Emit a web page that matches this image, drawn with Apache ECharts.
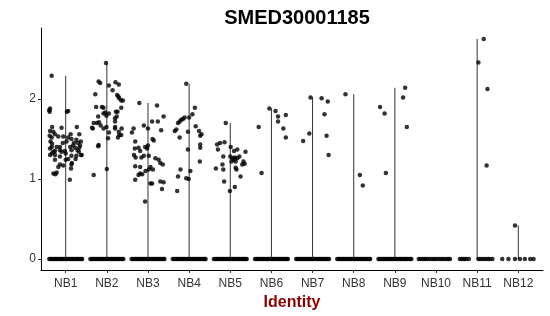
<!DOCTYPE html>
<html>
<head>
<meta charset="utf-8">
<script src="https://cdn.jsdelivr.net/npm/echarts@6/dist/echarts.min.js"></script>
<style>html,body{margin:0;padding:0;background:#fff}#c{width:550px;height:316px}</style>
</head>
<body>
<div id="c"></div>
<script>
const title = 'SMED30001185';
const xTitle = 'Identity';
const categories = ['NB1','NB2','NB3','NB4','NB5','NB6','NB7','NB8','NB9','NB10','NB11','NB12'];
const yTicks = [0, 1, 2];

// nonzero points per category: [horizontal jitter offset (category units), expression value]
const nb1 = [[-0.34,2.29],[-0.40,1.86],[-0.38,1.88],[-0.39,1.84],[0.03,1.84],[0.06,1.85],
[-0.33,1.65],[-0.10,1.64],[-0.38,1.60],[-0.30,1.59],[-0.26,1.56],[-0.39,1.54],[-0.34,1.52],[-0.18,1.53],[-0.06,1.53],[0.12,1.56],[0.27,1.65],[0.33,1.56],[0.06,1.52],[0.14,1.50],[0.26,1.49],[0.02,1.47],[0.37,1.47],
[-0.14,1.40],[-0.22,1.40],[-0.34,1.40],[-0.38,1.38],[0.18,1.42],[0.35,1.42],[0.33,1.39],[0.23,1.39],[0.11,1.40],[-0.02,1.35],[-0.10,1.34],[-0.26,1.35],[-0.34,1.32],[-0.38,1.30],[-0.14,1.28],[-0.26,1.24],[0.00,1.24],[0.06,1.25],[0.14,1.29],[0.32,1.34],[0.37,1.30],
[-0.14,1.18],[-0.06,1.17],[0.14,1.18],[-0.30,1.34],[-0.26,1.30],[-0.14,1.36],[0.00,1.32],[0.14,1.36],[0.26,1.29],[0.24,1.25],[-0.18,1.15],[-0.30,1.07],[-0.25,1.06],[-0.22,1.08],[0.13,1.13],[0.15,1.20],[0.10,0.99],[-0.07,1.45],[0.20,1.45],[0.30,1.45],[0.39,1.30],[-0.37,1.47],[-0.33,1.44],[0.29,1.36]];
const nb2 = [[-0.02,2.45],[-0.20,2.22],[-0.16,2.20],[0.05,2.17],[0.21,2.21],[0.29,2.18],[0.14,2.11],[-0.28,2.06],[0.25,2.05],[0.28,2.03],[0.30,2.01],[0.35,1.98],[0.39,1.98],[-0.26,1.90],[-0.12,1.90],[-0.08,1.89],[0.35,1.89],[-0.04,1.83],[0.05,1.82],[-0.08,1.82],[-0.21,1.78],[0.22,1.84],[0.26,1.84],[0.24,1.78],[-0.01,1.79],[0.20,1.76],[-0.24,1.70],[-0.32,1.70],[-0.36,1.64],[-0.19,1.71],[-0.15,1.67],[-0.01,1.65],[-0.08,1.63],[0.20,1.72],[0.20,1.65],[0.20,1.63],[0.36,1.63],[0.29,1.59],[0.35,1.55],[0.30,1.55],[0.27,1.52],[0.05,1.58],[-0.20,1.425],[0.03,1.51],[-0.32,1.05],[0.00,1.125],[-0.34,1.63],[-0.21,1.41]];
const nb3 = [[-0.21,1.95],[0.22,1.92],[0.38,1.78],[0.24,1.72],[0.10,1.72],[-0.10,1.67],[0.00,1.63],[-0.35,1.63],[-0.39,1.58],[0.32,1.61],[-0.31,1.47],[-0.07,1.40],[0.00,1.42],[-0.02,1.38],[0.11,1.50],[0.14,1.48],[-0.32,1.38],[-0.23,1.39],[-0.19,1.35],[-0.34,1.30],[-0.30,1.27],[-0.16,1.27],[-0.10,1.29],[0.02,1.29],[0.18,1.26],[0.26,1.24],[0.30,1.20],[0.36,1.18],[-0.31,1.16],[-0.19,1.15],[0.06,1.15],[0.12,1.12],[0.02,1.12],[-0.06,1.10],[-0.14,1.06],[-0.23,1.05],[-0.19,1.07],[-0.31,0.99],[0.06,0.945],[0.10,0.945],[0.30,0.97],[0.38,0.96],[0.34,0.875],[-0.07,0.72]];
const nb4 = [[-0.07,2.19],[0.14,1.89],[0.08,1.81],[0.00,1.77],[-0.11,1.77],[-0.15,1.75],[-0.19,1.74],[-0.23,1.72],[-0.27,1.70],[-0.31,1.62],[-0.35,1.60],[0.16,1.66],[0.24,1.60],[0.30,1.56],[0.27,1.54],[-0.03,1.59],[-0.23,1.52],[0.27,1.43],[0.27,1.39],[-0.03,1.37],[0.26,1.22],[-0.21,1.12],[-0.27,1.03],[0.03,1.10],[-0.07,1.01],[-0.01,1.00],[-0.29,0.85]];
const nb5 = [[-0.11,1.70],[-0.32,1.43],[-0.25,1.45],[-0.14,1.46],[-0.30,1.37],[0.01,1.40],[0.09,1.35],[0.17,1.37],[0.37,1.34],[-0.17,1.28],[0.00,1.28],[0.06,1.26],[0.11,1.27],[0.17,1.26],[0.08,1.24],[0.13,1.22],[0.03,1.22],[0.22,1.28],[0.32,1.22],[0.35,1.19],[0.29,1.18],[-0.19,1.18],[-0.35,1.13],[-0.17,1.12],[0.13,1.14],[0.15,1.12],[0.25,1.03],[-0.15,0.97],[0.11,0.90],[-0.01,0.85]];
const nb6 = [[-0.05,1.88],[0.10,1.85],[0.16,1.78],[0.16,1.72],[0.35,1.80],[0.29,1.63],[0.35,1.52],[-0.31,1.65],[-0.24,1.075]];
const nb7 = [[-0.05,2.02],[-0.23,1.475],[-0.08,1.57],[0.22,2.01],[0.37,1.97],[0.29,1.81],[0.34,1.54],[0.39,1.30]];
const nb8 = [[-0.20,2.06],[0.15,1.05],[0.22,0.92]];
const nb9 = [[-0.36,1.90],[-0.25,1.82],[-0.22,1.075],[0.25,2.14],[0.20,2.02],[0.29,1.65]];
const nb10 = [];
const nb11 = [[0.16,2.75],[0.03,2.455],[0.25,2.125],[0.23,1.17]];
const nb12 = [[-0.08,0.42]];

// jitter offsets of the cells with value 0 (dense strip for NB1-NB9, sparse for NB10-NB12)
const zeroStrip = [-0.40,-0.37,-0.34,-0.31,-0.28,-0.25,-0.22,-0.19,-0.16,-0.13,-0.10,-0.07,-0.04,-0.01,0.02,0.05,0.08,0.11,0.14,0.17,0.20,0.23,0.26,0.29,0.32,0.35,0.38,0.40];
const zeroNB10 = [-0.42,-0.38,-0.33,-0.29,-0.25,-0.21,-0.16,-0.11,-0.06,-0.02,0.03,0.08,0.13,0.17,0.22,0.27,0.31,0.34];
const zeroNB11 = [-0.42,-0.38,-0.34,-0.30,-0.26,-0.20,0.03,0.07,0.12,0.17,0.22,0.27,0.31,0.37];
const zeroNB12 = [-0.39,-0.24,-0.08,0.04,0.16,0.29,0.37];

const groups = [nb1,nb2,nb3,nb4,nb5,nb6,nb7,nb8,nb9,nb10,nb11,nb12];
const zeroGroups = [zeroStrip,zeroStrip,zeroStrip,zeroStrip,zeroStrip,zeroStrip,zeroStrip,zeroStrip,zeroStrip,zeroNB10,zeroNB11,zeroNB12];

const points = [];
groups.forEach((g, i) => g.forEach(p => points.push([i + 1 + p[0], p[1]])));
zeroGroups.forEach((z, i) => z.forEach(d => points.push([i + 1 + d, 0])));

const maxes = groups.map((g, i) => [i + 1, g.length ? Math.max(...g.map(p => p[1])) : 0]);
const catIdx = categories.map((c, i) => i + 1);

const chart = echarts.init(document.getElementById('c'), null, {renderer: 'canvas'});
chart.setOption({
  animation: false,
  backgroundColor: '#fff',
  title: {
    text: title, left: 292, top: 3, textAlign: 'center',
    textStyle: {fontFamily: 'Liberation Sans, Arial', fontWeight: 'bold', fontSize: 20, color: '#000'}
  },
  grid: {left: 41, right: 7, top: 28, bottom: 46, containLabel: false, outerBoundsMode: 'none'},
  xAxis: {
    type: 'value', min: 0.4, max: 12.6,
    name: xTitle, nameLocation: 'middle', nameGap: 23,
    nameTextStyle: {fontFamily: 'Liberation Sans, Arial', fontWeight: 'bold', fontSize: 16, color: '#8B0000'},
    axisLine: {show: true, onZero: false, lineStyle: {color: '#000', width: 1}},
    axisTick: {show: true, length: 3, customValues: catIdx, lineStyle: {color: '#333'}},
    axisLabel: {customValues: catIdx, margin: 8, fontFamily: 'Liberation Sans, Arial', fontSize: 12, color: '#333',
      formatter: v => categories[Math.round(v) - 1] || ''},
    splitLine: {show: false}
  },
  yAxis: {
    type: 'value', min: -0.1375, max: 2.8875,
    axisLine: {show: true, onZero: false, lineStyle: {color: '#000', width: 1}},
    axisTick: {show: true, length: 3, customValues: yTicks, lineStyle: {color: '#333'}},
    axisLabel: {customValues: yTicks, margin: 5, fontFamily: 'Liberation Sans, Arial', fontSize: 12, color: '#333'},
    splitLine: {show: false}
  },
  series: [
    {
      type: 'custom',
      data: maxes,
      z: 1,
      renderItem: (params, api) => {
        const x = api.value(0), m = api.value(1);
        if (!(m > 0)) return null;
        const p0 = api.coord([x, 0]);
        const p1 = api.coord([x, m]);
        return {type: 'line', shape: {x1: p0[0], y1: p0[1], x2: p1[0], y2: p1[1]},
          style: {stroke: '#333', lineWidth: 1}};
      }
    },
    {
      type: 'scatter',
      data: points,
      symbol: 'circle',
      symbolSize: 4.5,
      z: 2,
      itemStyle: {color: '#000'}
    }
  ]
});
</script>
</body>
</html>
